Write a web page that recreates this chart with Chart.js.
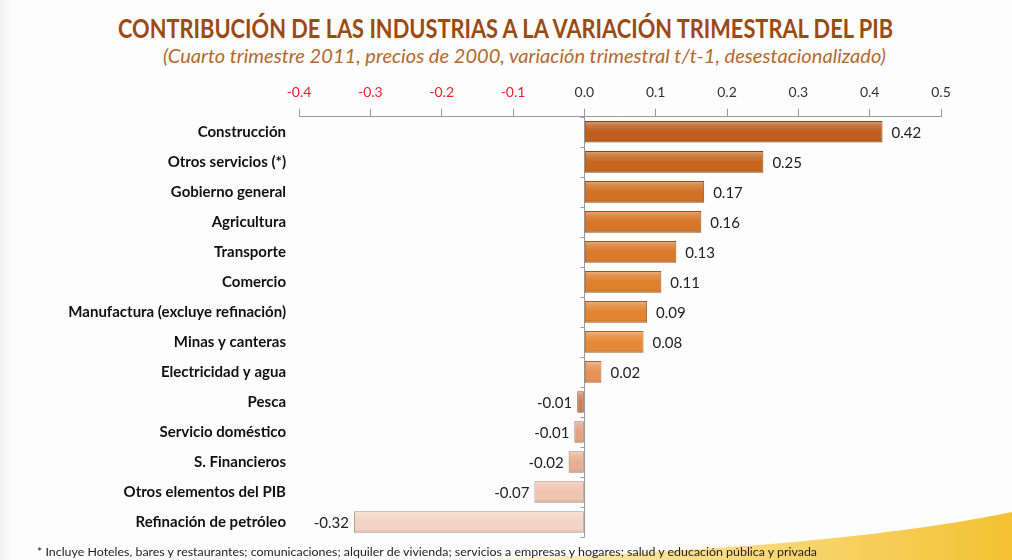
<!DOCTYPE html>
<html lang="es">
<head>
<meta charset="utf-8">
<script src="https://cdn.jsdelivr.net/npm/chart.js@4.4.1/dist/chart.umd.min.js"></script>
<style>
  html, body { margin: 0; padding: 0; }
  body {
    width: 1012px; height: 560px; position: relative; overflow: hidden;
    background: #fdfdfd; font-family: Lato, "Open Sans", sans-serif;
  }
  .edge { position: absolute; left: 0; top: 0; width: 12px; height: 560px;
          background: linear-gradient(to right, #f1f1f1, #fdfdfd); }
  #swoosh { position: absolute; left: 0; top: 0; }
  .fit { position: absolute; margin: 0; white-space: nowrap; transform-origin: left top; }
  #title { top: 12px; left: 118px; font-size: 26px; font-weight: 700; color: #9b4a13; }
  #subtitle { top: 44px; left: 163px; font-size: 19px; font-style: italic; color: #b5692c; }
  #note { top: 545px; left: 37px; font-size: 11px; color: #222; }
  #pibChart { position: absolute; left: 0; top: 70px; }
</style>
</head>
<body>
<div class="edge"></div>
<svg id="swoosh" width="1012" height="560">
  <defs>
    <linearGradient id="sw" x1="0" y1="0" x2="1" y2="0">
      <stop offset="0" stop-color="#fbe9a8" stop-opacity="0"/>
      <stop offset="0.35" stop-color="#fbe39a"/>
      <stop offset="1" stop-color="#f3c232"/>
    </linearGradient>
  </defs>
  <path d="M 430 560 Q 820 552 1012 512 L 1012 560 Z" fill="url(#sw)"/>
</svg>

<div id="title" class="fit" data-w="775">CONTRIBUCIÓN DE LAS INDUSTRIAS A LA VARIACIÓN TRIMESTRAL DEL PIB</div>
<div id="subtitle" class="fit" data-w="723">(Cuarto trimestre 2011, precios de 2000, variación trimestral t/t-1, desestacionalizado)</div>

<canvas id="pibChart" width="1012" height="481"></canvas>

<div id="note" class="fit" data-w="780">* Incluye Hoteles, bares y restaurantes; comunicaciones; alquiler de vivienda; servicios a empresas y hogares; salud y educación pública y privada</div>

<script>
// ---- data ----
const industries = [
  'Construcción', 'Otros servicios (*)', 'Gobierno general', 'Agricultura',
  'Transporte', 'Comercio', 'Manufactura (excluye refinación)', 'Minas y canteras',
  'Electricidad y agua', 'Pesca', 'Servicio doméstico', 'S. Financieros',
  'Otros elementos del PIB', 'Refinación de petróleo'
];
const contributions = [0.418, 0.251, 0.168, 0.164, 0.129, 0.108, 0.088, 0.083,
  0.024, -0.010, -0.014, -0.022, -0.070, -0.323];
const axisMin = -0.4;
const axisMax = 0.5;
const axisStep = 0.1;

// bar shades, top to bottom
const barColors = ['#bf5e1d', '#c6671f', '#d07125', '#d57528', '#da7a2b', '#de7f2e',
  '#e28431', '#e68936', '#e69156', '#cd7d55', '#e3a182', '#e8ae92', '#efc3ad', '#f4d3c3'];

const FONT = 'Lato, "Open Sans", sans-serif';

// stretch/squeeze the html texts to the widths in the reference
document.querySelectorAll('.fit').forEach(el => {
  const w = el.getBoundingClientRect().width;
  el.style.transform = 'scaleX(' + (el.dataset.w / w) + ')';
});

function mix(hex, target, t) {
  const a = parseInt(hex.slice(1), 16);
  const r = (a >> 16) & 255, g = (a >> 8) & 255, b = a & 255;
  const m = v => Math.round(v + (target - v) * t);
  return `rgb(${m(r)},${m(g)},${m(b)})`;
}

function barFill(ctx) {
  const chart = ctx.chart;
  const base = barColors[ctx.dataIndex];
  if (!chart.chartArea) return base;
  const y = chart.scales.y.getPixelForValue(ctx.dataIndex);
  const h = 11;
  const g = chart.ctx.createLinearGradient(0, y - h, 0, y + h);
  g.addColorStop(0, mix(base, 255, 0.45));
  g.addColorStop(0.18, mix(base, 255, 0.18));
  g.addColorStop(0.5, base);
  g.addColorStop(0.85, base);
  g.addColorStop(1, mix(base, 0, 0.2));
  return g;
}

// zero line with small category ticks
const zeroAxis = {
  id: 'zeroAxis',
  beforeDatasetsDraw(chart) {
    const { ctx, chartArea, scales } = chart;
    const x0 = Math.round(scales.x.getPixelForValue(0)) + 0.5;
    const half = (scales.y.getPixelForValue(1) - scales.y.getPixelForValue(0)) / 2;
    ctx.save();
    ctx.strokeStyle = '#9a9a9a';
    ctx.lineWidth = 1;
    ctx.beginPath();
    ctx.moveTo(x0, chartArea.top);
    ctx.lineTo(x0, chartArea.bottom);
    for (let i = 0; i <= industries.length; i++) {
      const y = Math.round(scales.y.getPixelForValue(i) - half) + 0.5;
      ctx.moveTo(x0 - 4, y);
      ctx.lineTo(x0, y);
    }
    ctx.stroke();
    ctx.restore();
  }
};

// value labels at bar ends
const valueLabels = {
  id: 'valueLabels',
  afterDatasetsDraw(chart) {
    const { ctx } = chart;
    const meta = chart.getDatasetMeta(0);
    ctx.save();
    ctx.font = '15px ' + FONT;
    ctx.fillStyle = '#222';
    ctx.textBaseline = 'middle';
    meta.data.forEach((bar, i) => {
      const v = contributions[i];
      const txt = v.toFixed(2);
      if (v >= 0) {
        ctx.textAlign = 'left';
        ctx.fillText(txt, bar.x + 9, bar.y + 1);
      } else {
        ctx.textAlign = 'right';
        ctx.fillText(txt, bar.x - 5, bar.y + 1);
      }
    });
    ctx.restore();
  }
};

new Chart(document.getElementById('pibChart'), {
  type: 'bar',
  data: {
    labels: industries,
    datasets: [{
      data: contributions,
      backgroundColor: barFill,
      borderColor: barColors.map(c => mix(c, 0, 0.3)),
      borderWidth: 1,
      borderSkipped: false,
      barPercentage: 0.72,
      categoryPercentage: 1
    }]
  },
  options: {
    indexAxis: 'y',
    responsive: false,
    animation: false,
    layout: { padding: { top: 6, right: 71, bottom: 2, left: 0 } },
    plugins: { legend: { display: false }, tooltip: { enabled: false } },
    scales: {
      x: {
        position: 'top',
        min: axisMin, max: axisMax,
        ticks: {
          stepSize: axisStep,
          padding: 8,
          font: { family: FONT, size: 14 },
          color: c => c.tick.value < -1e-9 ? '#ee1c2c' : '#333',
          callback: v => Math.abs(v) < 1e-9 ? '0.0' : v.toFixed(1)
        },
        grid: { drawOnChartArea: false, drawTicks: true, tickLength: 8, color: '#9a9a9a' },
        border: { display: true, color: '#9a9a9a' }
      },
      y: {
        grid: { display: false },
        border: { display: false },
        ticks: {
          padding: 5,
          font: { family: FONT, size: 15, weight: 'bold' },
          color: '#111'
        },
        afterFit: s => { s.width = 299; }
      }
    }
  },
  plugins: [zeroAxis, valueLabels]
});
</script>
</body>
</html>
